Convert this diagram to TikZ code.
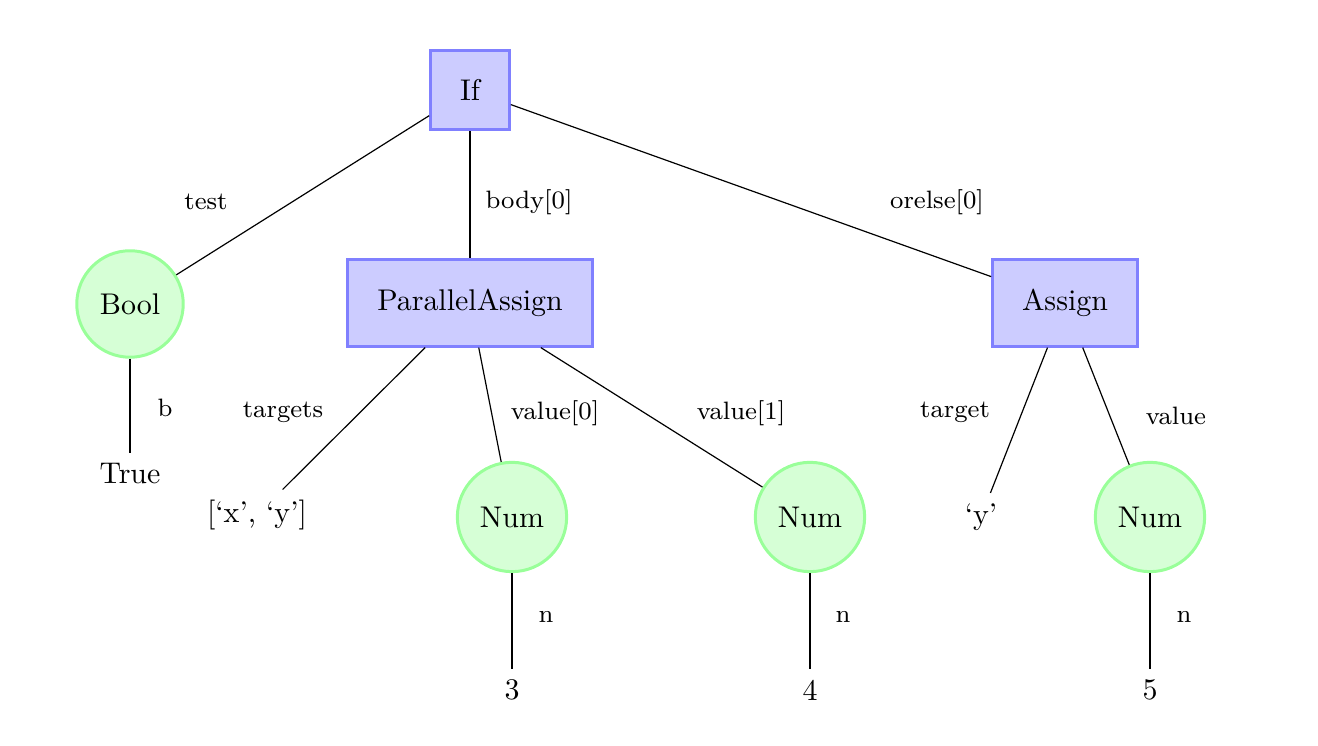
\documentclass[tikz,border=0pt]{standalone}
\begin{document}
\begin{tikzpicture}[x=0.334pt,y=-0.334pt,
  sq/.style={draw=blue!50,fill=blue!20,line width=1pt,inner sep=9.8pt,rectangle},
  circ/.style={draw=green!40,fill=green!16,line width=1pt,inner sep=5.35pt,circle},
  leaf/.style={inner sep=3.33pt},
  lbl/.style={font=\fontsize{8.4}{10}\selectfont,inner sep=1pt},
  edge/.style={draw=black,line width=0.4pt}]
\useasboundingbox (0,0) rectangle (1318,746);
% nodes
\node[sq] (if) at (470,90) {If};
\node[circ] (bool) at (130,304) {Bool};
\node[sq] (pa) at (470,303) {ParallelAssign};
\node[sq] (as) at (1065,303) {Assign};
\node[leaf] (true) at (130,474) {True};
\node[leaf] (xy) at (257,515) {[`x', `y']};
\node[circ] (num1) at (512,517) {Num};
\node[circ] (num2) at (810,517) {Num};
\node[leaf] (y) at (981,517) {`y'};
\node[circ] (num3) at (1150,517) {Num};
\node[leaf] (n3) at (512,690) {3};
\node[leaf] (n4) at (810,690) {4};
\node[leaf] (n5) at (1150,690) {5};
% edges
\draw[edge] (if) -- (bool);
\draw[edge] (if) -- (pa);
\draw[edge] (if) -- (as);
\draw[edge] (bool) -- (true);
\draw[edge] (pa) -- (xy);
\draw[edge] (pa) -- (num1);
\draw[edge] (pa) -- (num2);
\draw[edge] (as) -- (y);
\draw[edge] (as) -- (num3);
\draw[edge] (num1) -- (n3);
\draw[edge] (num2) -- (n4);
\draw[edge] (num3) -- (n5);
% labels
\node[lbl] (l1) at (206,202) {test};
\node[lbl] (l2) at (529,202) {body[0]};
\node[lbl] (l3) at (937,202) {orelse[0]};
\node[lbl] (l4) at (165,408) {b};
\node[lbl] (l5) at (283,412) {targets};
\node[lbl] (l6) at (555,413) {value[0]};
\node[lbl] (l7) at (741,413) {value[1]};
\node[lbl] (l8) at (955,412) {target};
\node[lbl] (l9) at (1176,416) {value};
\node[lbl] (l10) at (546,617) {n};
\node[lbl] (l11) at (843,617) {n};
\node[lbl] (l12) at (1184,617) {n};
\end{tikzpicture}
\end{document}
